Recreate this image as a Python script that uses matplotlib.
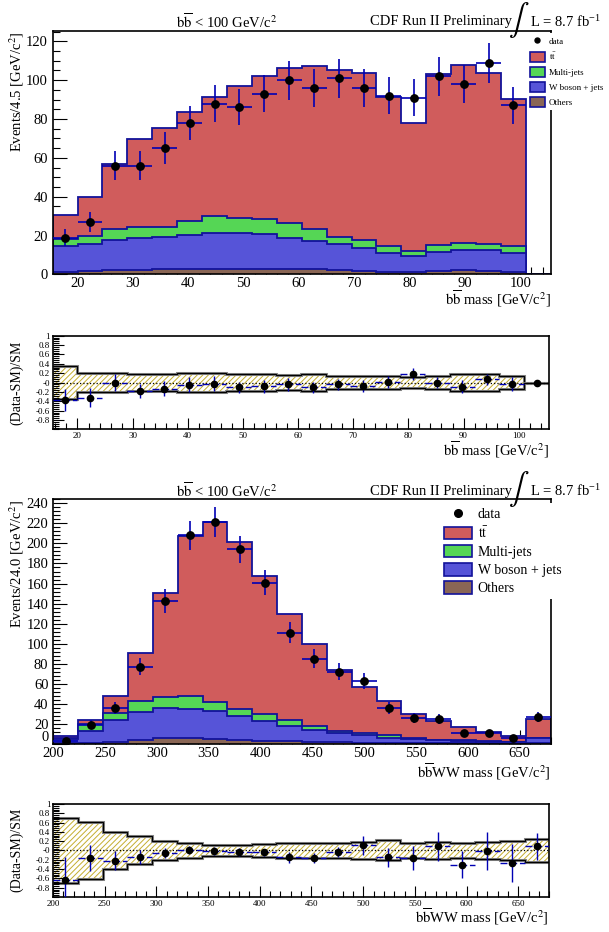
import numpy as np
import matplotlib
matplotlib.use('Agg')
import matplotlib.pyplot as plt
from matplotlib.patches import Patch
from matplotlib.lines import Line2D
from matplotlib.ticker import MultipleLocator, FixedLocator, FormatStrFormatter

plt.rcParams['font.family'] = ['Liberation Serif', 'DejaVu Serif']
plt.rcParams['mathtext.fontset'] = 'stix'
plt.rcParams['axes.unicode_minus'] = False
plt.rcParams['hatch.linewidth'] = 0.7

############# 
"bb mass < 100 : bb mass"
#############
edges1 = np.arange(15.5, 106, 4.5)
others1 = [1.5, 1.9, 2.4, 2.4, 2.6, 2.6, 2.9, 2.9, 2.8, 2.8, 2.6, 2.1, 2.0, 1.5, 1.5, 2.0, 2.1, 2.0, 1.5, 0]
wjets1 = [13.0, 13.9, 15.5, 16.5, 16.7, 17.5, 18.6, 18.4, 18.2, 16.1, 14.6, 13.7, 11.6, 9.3, 8.0, 9.4, 10.3, 10.7, 9.7, 0]
multi1 = [3.9, 3.8, 5.3, 5.5, 5.1, 7.3, 8.8, 7.6, 7.7, 7.8, 6.2, 3.5, 4.3, 3.8, 2.5, 3.9, 4.0, 3.1, 3.3, 0]
ttbar1 = [12.1, 20.4, 33.8, 45.1, 51.1, 56.1, 61.2, 68.1, 73.3, 79.8, 84.1, 85.7, 85.6, 76.9, 66.0, 87.7, 91.6, 87.7, 76.0, 0]
data1 = [19, 27, 56, 56, 65, 78, 88, 86, 93, 100, 96, 101, 96, 92, 91, 102, 98, 109, 87, 0]
err1 = [4.4, 5.2, 7.5, 7.5, 8.1, 8.8, 9.4, 9.3, 9.6, 10.0, 9.8, 10.0, 9.8, 9.6, 9.5, 10.1, 9.9, 10.4, 9.3, 0]
ratio1 = [-0.37, -0.32, 0.0, -0.18, -0.13, -0.05, -0.03, -0.10, -0.08, -0.04,
          -0.10, -0.035, -0.07, 0.01, 0.18, 0.0, -0.085, 0.07, -0.03, 0.0]
rerr1 = [0.24, 0.21, 0.18, 0.14, 0.16, 0.16, 0.16, 0.12, 0.14, 0.13,
         0.12, 0.12, 0.13, 0.12, 0.13, 0.12, 0.14, 0.12, 0.14, 0]
band1 = [0.345, 0.21, 0.21, 0.18, 0.175, 0.195, 0.21, 0.18, 0.175, 0.165,
         0.175, 0.13, 0.135, 0.145, 0.125, 0.145, 0.185, 0.185, 0.14, 0]

############# 
"bb mass < 100 : bbWW mass"
#############
edges2 = np.arange(200, 681, 24)
others2 = [0.7, 1.0, 2.3, 4.3, 6.0, 6.0, 5.0, 4.0, 3.3, 2.7, 2.3, 1.7, 1.3, 1.0, 1.0, 0.7, 0.7, 0.3, 0.3, 0.7]
wjets2 = [4.0, 11.7, 21.0, 27.4, 30.0, 29.0, 27.3, 24.0, 19.7, 15.0, 11.7, 9.6, 8.0, 5.0, 4.3, 3.0, 2.3, 2.0, 1.4, 5.0]
multi2 = [1.3, 6.6, 7.7, 10.6, 10.7, 13.0, 9.4, 7.0, 7.0, 6.3, 4.0, 2.0, 1.4, 3.0, 0.7, 0.6, 0.7, 0.4, 0.3, 0.3]
ttbar2 = [2.0, 4.7, 16.5, 48.2, 104.0, 159.7, 180.0, 166.7, 137.3, 106.0, 82.0, 60.7, 46.0, 33.7, 24.0, 18.7, 13.0, 9.0, 6.3, 19.0]
data2 = [3, 19, 36, 77, 143, 208, 221, 194, 161, 111, 85, 72, 63, 36, 26, 25, 11, 11, 6, 27]
err2 = [1.7, 4.4, 6.0, 8.8, 12.0, 14.4, 14.9, 13.9, 12.7, 10.5, 9.2, 8.5, 7.9, 6.0, 5.1, 5.0, 3.3, 3.3, 2.4, 5.2]
ratio2 = [-0.64, -0.17, -0.22, -0.15, -0.05, 0.01, -0.01, -0.04, -0.04, -0.15,
          -0.16, -0.03, 0.11, -0.15, -0.16, 0.09, -0.31, -0.01, -0.27, 0.09]
rerr2 = [0.5, 0.28, 0.2, 0.15, 0.11, 0.08, 0.08, 0.09, 0.08, 0.11,
         0.10, 0.11, 0.2, 0.2, 0.25, 0.31, 0.29, 0.4, 0.41, 0.29]
band2 = [0.7, 0.61, 0.39, 0.3, 0.21, 0.16, 0.125, 0.11, 0.14, 0.17,
         0.155, 0.155, 0.185, 0.215, 0.17, 0.19, 0.17, 0.19, 0.2, 0.25]

c_tt = '#d05c5c'
c_mj = '#55d655'
c_wj = '#5654d8'
c_ot = '#8a6655'
c_ln = '#12129a'
c_er = '#0000b4'
c_hatch = '#c4ae30'
labs = ['data', r'$\mathrm{t\bar{t}}$', 'Multi-jets', 'W boson + jets', 'Others']


def stack(ax, edges, ot, wj, mj, tt):
    ot = np.array(ot); wj = np.array(wj); mj = np.array(mj); tt = np.array(tt)
    c1 = ot
    c2 = c1 + wj
    c3 = c2 + mj
    c4 = c3 + tt
    for vals, col in [(c4, c_tt), (c3, c_mj), (c2, c_wj), (c1, c_ot)]:
        ax.stairs(vals, edges, baseline=0, fill=True, facecolor=col, edgecolor=c_ln, lw=1.3)
    return c4


def main_panel(ax, edges, ot, wj, mj, tt, data, err):
    stack(ax, edges, ot, wj, mj, tt)
    cen = 0.5*(edges[1:]+edges[:-1])
    hw = 0.5*(edges[1]-edges[0])
    data = np.array(data, float); err = np.array(err)
    m = data > 0
    ax.errorbar(cen[m], data[m], yerr=err[m], xerr=hw, fmt='o', color='black', ms=5.3,
                ecolor=c_er, elinewidth=1.2, capsize=0, zorder=5)
    ax.set_xlim(edges[0], edges[-1])
    ax.set_axisbelow(True)
    ax.tick_params(direction='in', which='both', top=False, right=False, labelsize=10.5)
    ax.tick_params(axis='x', pad=1.5)
    ax.tick_params(which='major', length=10, width=0.8)
    ax.tick_params(which='minor', length=5, width=0.8)
    for s in ax.spines.values():
        s.set_linewidth(1.2)


def ratio_panel(ax, edges, ratio, rerr, band):
    band = np.array(band)
    cen = 0.5*(edges[1:]+edges[:-1])
    ax.stairs(band, edges, baseline=-band, fill=True, facecolor='white', edgecolor=c_hatch,
              lw=0, hatch='//////')
    ax.axhline(0, color='black', ls=':', lw=0.9)
    for sgn in [1, -1]:
        ax.stairs(sgn*band, edges, baseline=None, color='#888888', lw=2.2)
        ax.stairs(sgn*band, edges, baseline=None, color='black', lw=0.9)
    ratio = np.array(ratio); rerr = np.array(rerr)
    m = rerr > 0
    ax.vlines(cen[m], (ratio-rerr)[m], (ratio+rerr)[m], colors=c_er, lw=1.0, zorder=4)
    ax.hlines(ratio[m], edges[:-1][m], edges[1:][m], colors=c_er, lw=1.0,
              linestyles=(0, (5, 2)), zorder=4)
    ax.plot(cen, ratio, 'o', color='black', ms=4.5, zorder=5)
    ax.set_xlim(edges[0], edges[-1])
    ax.set_ylim(-1, 1)
    ax.yaxis.set_major_locator(FixedLocator(np.round(np.arange(-0.8, 1.01, 0.2), 1)))
    ax.yaxis.set_minor_locator(MultipleLocator(0.04))
    ax.yaxis.set_major_formatter(FormatStrFormatter('%g'))
    ax.tick_params(direction='in', which='both', top=False, right=False, labelsize=6.5, pad=2)
    ax.tick_params(which='major', length=8, width=0.8)
    ax.tick_params(which='minor', length=4, width=0.8)
    for s in ax.spines.values():
        s.set_linewidth(1.2)


def legend(ax, x, y, fs, hl, hh, sp):
    hnd = [Line2D([], [], marker='o', color='black', ls='none', ms=fs*0.55)]
    for col in [c_tt, c_mj, c_wj, c_ot]:
        hnd.append(Patch(facecolor=col, edgecolor=c_ln, lw=1.2))
    lg = ax.legend(hnd, labs, loc='upper left', bbox_to_anchor=(x, y), bbox_transform=fig.transFigure,
                   fontsize=fs, frameon=True, fancybox=False, framealpha=1, edgecolor='none',
                   handlelength=hl, handleheight=hh, labelspacing=sp, handletextpad=0.4,
                   borderpad=0.3, borderaxespad=0)
    lg.set_zorder(10)


def top_text(y):
    fig.text(227/609, y, r'$\mathrm{b\overline{b}}$ < 100 GeV/c$^{2}$', ha='center', va='center', fontsize=10.5)
    fig.text(512/609, y, 'CDF Run II Preliminary', ha='right', va='center', fontsize=10.5)
    fig.text(519/609, y + 0.002, r'$\int$', ha='center', va='center', fontsize=22)
    fig.text(530/609, y, r'L = 8.7 fb$^{\mathregular{-1}}$', ha='left', va='center', fontsize=10.5)


fig = plt.figure(figsize=(6.09, 9.32), dpi=100)
ax1 = fig.add_axes([0.0865, 0.7055, 0.818, 0.2616])
ax2 = fig.add_axes([0.0865, 0.5392, 0.815, 0.1006])
ax3 = fig.add_axes([0.0875, 0.2019, 0.8168, 0.2623])
ax4 = fig.add_axes([0.0870, 0.0376, 0.815, 0.0998])

main_panel(ax1, edges1, others1, wjets1, multi1, ttbar1, data1, err1)
ax1.set_ylim(0, 125.5)
ax1.xaxis.set_major_locator(MultipleLocator(10))
ax1.xaxis.set_minor_locator(MultipleLocator(2))
ax1.yaxis.set_major_locator(MultipleLocator(20))
ax1.yaxis.set_minor_locator(MultipleLocator(5))
legend(ax1, 527/609, 1-33/932, 6.5, 1.7, 1.3, 0.55)

ratio_panel(ax2, edges1, ratio1, rerr1, band1)
ax2.xaxis.set_major_locator(MultipleLocator(10))
ax2.xaxis.set_minor_locator(MultipleLocator(2))

main_panel(ax3, edges2, others2, wjets2, multi2, ttbar2, data2, err2)
ax3.set_ylim(0, 244)
ax3.xaxis.set_major_locator(FixedLocator(np.arange(200, 660, 50)))
ax3.xaxis.set_minor_locator(MultipleLocator(10))
ax3.yaxis.set_major_locator(FixedLocator(np.arange(0, 241, 20)))
ax3.yaxis.set_minor_locator(MultipleLocator(4))
ax3.tick_params(axis='x', pad=2.5)
# lift the "0" label a little so it clears the "200" below it
ax3.yaxis.get_major_ticks()[0].label1.set_verticalalignment('bottom')
legend(ax3, 440/609, 1-503/932, 10, 2.0, 1.0, 0.3)

ratio_panel(ax4, edges2, ratio2, rerr2, band2)
ax4.xaxis.set_major_locator(FixedLocator(np.arange(200, 660, 50)))
ax4.xaxis.set_minor_locator(MultipleLocator(10))

top_text(1-22/932)
top_text(1-491/932)

fig.text(17/609, 1-31/932, r'Events/4.5 [GeV/c$^{2}$]', rotation=90, ha='center', va='top', fontsize=10.5)
fig.text(17/609, 1-500/932, r'Events/24.0 [GeV/c$^{2}$]', rotation=90, ha='center', va='top', fontsize=10.5)
fig.text(17/609, 1-383/932, '(Data-SM)/SM', rotation=90, ha='center', va='center', fontsize=10)
fig.text(17/609, 1-850/932, '(Data-SM)/SM', rotation=90, ha='center', va='center', fontsize=10)

fig.text(551/609, 1-299/932, r'$\mathrm{b\overline{b}}$ mass [GeV/c$^{2}$]', ha='right', va='center', fontsize=10.5)
fig.text(549/609, 1-450/932, r'$\mathrm{b\overline{b}}$ mass [GeV/c$^{2}$]', ha='right', va='center', fontsize=10.5)
fig.text(551/609, 1-772/932, r'$\mathrm{b\overline{b}}$WW mass [GeV/c$^{2}$]', ha='right', va='center', fontsize=10.5)
fig.text(549/609, 1-917/932, r'$\mathrm{b\overline{b}}$WW mass [GeV/c$^{2}$]', ha='right', va='center', fontsize=10.5)

plt.savefig('out.png', dpi=100)
